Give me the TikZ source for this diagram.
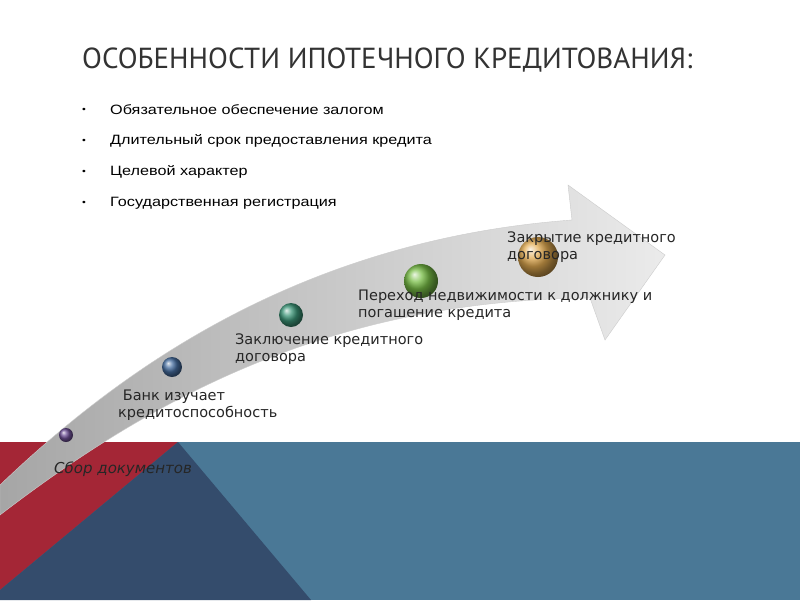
\documentclass[tikz,border=0pt]{standalone}
\usepackage{fontspec}
\setmainfont{DejaVu Sans}
\newfontfamily\titlefont{PT Sans}
\newfontfamily\bulfont[FakeStretch=1.2]{Liberation Sans}
\begin{document}
\begin{tikzpicture}[x=1pt,y=-1pt,
 lbl/.style={anchor=north west,align=left,font=\fontsize{14.5}{17}\selectfont,text=black!85,inner sep=0pt},
 bul/.style={anchor=west,font=\bulfont\fontsize{13.5}{15}\selectfont,inner sep=0pt}]
\useasboundingbox (0,0) rectangle (800,600);
\fill[white] (0,0) rectangle (800,600);
\fill[fill={rgb,255:red,74;green,120;blue,150}] (0,442) rectangle (800,600);
\fill[fill={rgb,255:red,164;green,38;blue,54}] (0,442) -- (178,442) -- (0,590) -- cycle;
\fill[fill={rgb,255:red,52;green,76;blue,108}] (178,442) -- (311,600) -- (0,600) -- (0,590) -- cycle;
\node[anchor=west,font=\titlefont\fontsize{29}{32}\selectfont,text=black!80,inner sep=0pt] (title) at (82,60) {ОСОБЕННОСТИ ИПОТЕЧНОГО КРЕДИТОВАНИЯ:};
\foreach \t [count=\i] in {Обязательное обеспечение залогом,Длительный срок предоставления кредита,Целевой характер,Государственная регистрация}{
 \node[bul] (b\i) at (110,110+31*\i-31) {\t};
 \node[bul] (d\i) at (82,110+31*\i-31) {\fontsize{9}{9}\selectfont•};}
\shade[left color=black!35,right color=black!8,draw=black!20]
 (0,485) .. controls (120,370) and (300,240) .. (572,220) -- (568,185) -- (665,255) -- (605,340) -- (590,298)
 .. controls (330,300) and (150,400) .. (0,515) -- cycle;
\shade[ball color={rgb,255:red,110;green,80;blue,150}] (66,435) circle (7);
\shade[ball color={rgb,255:red,70;green,110;blue,160}] (172,367) circle (10);
\shade[ball color={rgb,255:red,60;green,150;blue,120}] (291,315) circle (12);
\shade[ball color={rgb,255:red,120;green,190;blue,70}] (421,281) circle (17);
\shade[ball color={rgb,255:red,225;green,170;blue,80}] (538,257) circle (20);
\node[lbl,font=\itshape\fontsize{15}{17}\selectfont] (s1) at (54,462) {Сбор документов};
\node[lbl] (s2) at (118,390) {\ Банк изучает\\кредитоспособность};
\node[lbl] (s3) at (235,334) {Заключение кредитного\\договора};
\node[lbl] (s4) at (358,290) {Переход недвижимости к должнику и\\погашение кредита};
\node[lbl] (s5) at (507,232) {Закрытие кредитного\\договора};
\end{tikzpicture}
\end{document}
